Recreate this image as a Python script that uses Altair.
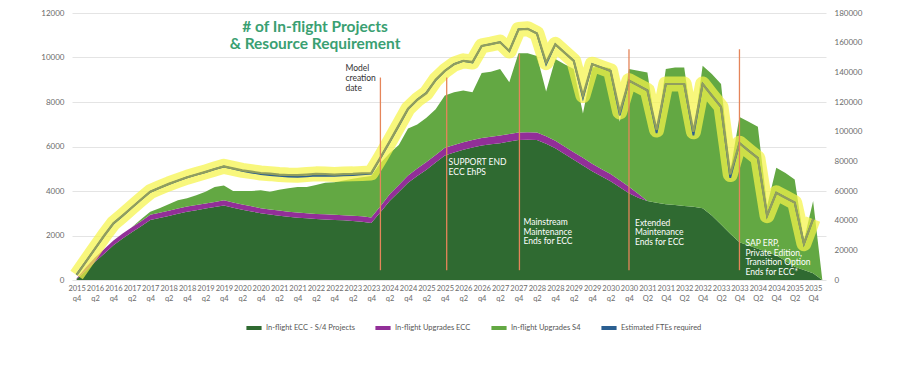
import json
import altair as alt
import pandas as pd

# ---------------- data (quarterly, 0 = 2015 q4 ... 80 = 2035 Q4, 81 = run-out) ----------------
quarter_index = list(range(82))

tick_labels = [
    ["2015", "q4"], ["2016", "q2"], ["2016", "q4"], ["2017", "q2"], ["2017", "q4"],
    ["2018", "q2"], ["2018", "q4"], ["2019", "q2"], ["2019", "q4"], ["2020", "q2"],
    ["2020", "q4"], ["2021", "q2"], ["2021", "q4"], ["2022", "q2"], ["2022", "q4"],
    ["2023", "q2"], ["2023", "q4"], ["2024", "q2"], ["2024", "q4"], ["2025", "q2"],
    ["2025", "q4"], ["2026", "q2"], ["2026", "q4"], ["2027", "q2"], ["2027", "q4"],
    ["2028", "q2"], ["2028", "q4"], ["2029", "q2"], ["2029", "q4"], ["2030", "q2"],
    ["2030", "q4"], ["2031", "Q2"], ["2031", "Q4"], ["2032", "Q2"], ["2032", "Q4"],
    ["2033", "Q2"], ["2033", "Q4"], ["2034", "Q2"], ["2034", "Q4"], ["2035", "Q2"],
    ["2035", "Q4"],
]
tick_values = list(range(0, 81, 2))
left_ticks = [0, 2000, 4000, 6000, 8000, 10000, 12000]
right_ticks = [0, 20000, 40000, 60000, 80000, 100000, 120000, 140000, 160000, 180000]

series_names = [
    "In-flight ECC - S/4 Projects",
    "In-flight Upgrades ECC",
    "In-flight Upgrades S4",
    "Estimated FTEs required",
]

ecc_s4_projects = [
    50, 420, 820, 1180, 1560, 1870, 2150, 2420, 2700, 2790,
    2880, 2980, 3070, 3140, 3210, 3280, 3350, 3250, 3160, 3080,
    3000, 2940, 2890, 2840, 2800, 2770, 2740, 2720, 2700, 2680,
    2650, 2620, 2560, 3050, 3550, 3950, 4370, 4670, 4960, 5280,
    5600, 5730, 5850, 5950, 6040, 6100, 6150, 6220, 6290, 6300,
    6290, 6120, 5920, 5660, 5400, 5150, 4890, 4660, 4440, 4170,
    3900, 3700, 3550, 3470, 3400, 3370, 3330, 3290, 3230, 2900,
    2490, 2080, 1700, 1550, 1400, 1250, 1110, 850, 590, 450,
    300, 0,
]
upgrades_ecc = [
    20, 140, 190, 210, 220, 220, 220, 225, 230, 230,
    230, 230, 230, 230, 230, 230, 230, 230, 230, 230,
    230, 230, 230, 230, 230, 230, 230, 230, 230, 230,
    235, 240, 250, 260, 300, 320, 330, 340, 340, 340,
    340, 340, 340, 340, 340, 340, 340, 340, 340, 340,
    340, 340, 340, 340, 340, 340, 340, 330, 320, 310,
    290, 180, 0, 0, 0, 0, 0, 0, 0, 0,
    0, 0, 0, 0, 0, 0, 0, 0, 0, 0,
    0, 0,
]
upgrades_s4 = [
    0, 0, 0, 0, 0, 0, 0, 90, 140, 210,
    300, 370, 370, 440, 530, 670, 670, 520, 610, 690,
    800, 800, 940, 1050, 1150, 1180, 1300, 1420, 1460, 1560,
    1670, 1760, 1860, 1950, 1850, 1800, 2110, 1980, 1990, 2050,
    2350, 2370, 2330, 2150, 2920, 2920, 2990, 2330, 3560, 3550,
    3440, 2010, 3670, 3700, 3740, 1990, 4320, 4610, 4760, 2630,
    5290, 5520, 5780, 3120, 6080, 6180, 6220, 3300, 6400, 6360,
    6320, 2810, 5630, 5560, 5490, 2080, 3930, 3960, 3930, 1330,
    3250, 0,
]
# right axis (FTEs)
estimated_ftes = [
    3750, 12300, 21000, 29850, 38100, 43350, 48750, 54150, 59400, 62100,
    64650, 66900, 69150, 70950, 72750, 74700, 76500, 75000, 73500, 72450,
    71400, 70800, 70200, 69750, 69600, 69900, 70350, 70200, 70200, 70500,
    70800, 71250, 71700, 82200, 93000, 103950, 115200, 121500, 126300, 134700,
    141000, 145500, 147750, 146700, 157800, 159000, 160350, 154350, 168900, 169350,
    166200, 145500, 158850, 153300, 147750, 122700, 145500, 143250, 141000, 111000,
    134400, 131100, 127800, 99000, 132150, 132150, 132150, 97500, 132150, 124350,
    116700, 68850, 92250, 87150, 82200, 43350, 58800, 55500, 52200, 24450,
    41100, None,
]
fte_trend = [
    3300, 12300, 21150, 30000, 38250, 43500, 48900, 54300, 59550, 62250,
    64800, 67050, 69300, 71100, 72900, 74850, 76650, 75300, 73950, 73050,
    72150, 71700, 71100, 70800, 70650, 71100, 71550, 71400, 71100, 71400,
    71550, 71850, 72150, 82500, 93300, 104400, 115500, 121500, 126000, 135000,
    141000, 145500, 147750, 147000, 157800, 159000, 160350, 154350, 168900, 169350,
    166200, 146550, 158850, 153300, 147750, 124350, 145500, 143250, 141000, 113250,
    134400, 131100, 127800, 101100, 132150, 132150, 132150, 99900, 132150, 124350,
    116700, 71100, 92250, 87150, 82200, 43350, 58800, 55500, 52200, 24450,
    41100, None,
]

rule_quarters = [33, 40.2, 48.1, 60, 72]
rule_tops = [9100, 9100, 10150, 10370, 10370]
rule_bottom = 440

annotation_quarters = [29.2, 40.4, 48.55, 60.65, 72.65]
annotation_values = [9690, 5470, 2780, 2760, 1840]
annotation_lines = [
    ["Model", "creation", "date"],
    ["SUPPORT END", "ECC EhPS"],
    ["Mainstream", "Maintenance", "Ends for ECC"],
    ["Extended", "Maintenance", "Ends for ECC"],
    ["SAP ERP,", "Private Edition,", "Transition Option", "Ends for ECC*"],
]
annotation_colors = ["#333333", "#ffffff", "#ffffff", "#ffffff", "#ffffff"]

title_lines = ["# of In-flight Projects", "& Resource Requirement"]
title_quarter = 25.9
title_value = 11700

# ---------------- styles ----------------
DARK = "#2f6a31"
PURPLE = "#922f98"
LIGHT = "#63a843"
BLUE = "#2b5f91"
OLIVE = "#919e5e"
YELLOW = "#f5f449"
ORANGE = "#e5855a"
TITLE_C = "#3aa072"
FONT = "Lato"
AXIS_C = "#6b6b6b"

x_scale = alt.Scale(domain=[-0.5, 81.4], nice=False, zero=False)
y_left = alt.Scale(domain=[0, 12000], nice=False)
y_right = alt.Scale(domain=[0, 180000], nice=False)

label_expr = "(" + json.dumps(tick_labels) + ")[round(datum.value / 2)]"

x_axis = alt.Axis(
    values=tick_values, labelExpr=label_expr, labelAngle=0, labelOverlap=False,
    labelFlush=False, labelBound=False, ticks=False, domain=False, grid=False,
    labelFontSize=7.5, labelColor=AXIS_C, labelFont=FONT, labelPadding=4,
    labelLineHeight=10, title=None,
)
left_axis = alt.Axis(
    values=left_ticks, format="d", grid=True, gridColor="#e4e4e4", gridWidth=1,
    domain=False, ticks=False, labelPadding=8, labelFontSize=8, labelColor=AXIS_C,
    labelFont=FONT, labelOverlap=False, title=None,
)
right_axis = alt.Axis(
    orient="right", values=right_ticks, format="d", grid=False, domain=False,
    ticks=False, labelPadding=8, labelFontSize=8, labelColor=AXIS_C,
    labelFont=FONT, labelOverlap=False, title=None,
)

# ---------------- tables ----------------
area_names = series_names[:3]
area_rows = []
for ordv, (name, vals) in enumerate(zip(area_names, [ecc_s4_projects, upgrades_ecc, upgrades_s4])):
    for q, v in zip(quarter_index, vals):
        area_rows.append({"quarter": q, "series": name, "value": v, "ord": ordv})
area_df = pd.DataFrame(area_rows)

line_df = pd.DataFrame({"quarter": quarter_index, "fte": estimated_ftes, "trend": fte_trend})

legend_df = pd.DataFrame({"series": series_names, "quarter": [0] * 4, "value": [None] * 4})

rule_df = pd.DataFrame({"quarter": rule_quarters, "top": rule_tops,
                        "bottom": [rule_bottom] * len(rule_quarters)})

annot_df = pd.DataFrame({
    "quarter": annotation_quarters, "value": annotation_values,
    "lines": annotation_lines, "color": annotation_colors,
})
title_df = pd.DataFrame({"quarter": [title_quarter], "value": [title_value], "lines": [title_lines]})

X = alt.X("quarter:Q", scale=x_scale, axis=x_axis)

# ---------------- layers ----------------
areas = alt.Chart(area_df).mark_area(interpolate="linear").encode(
    x=X,
    y=alt.Y("value:Q", stack="zero", scale=y_left, axis=left_axis),
    color=alt.Color("series:N", scale=alt.Scale(domain=area_names, range=[DARK, PURPLE, LIGHT]),
                    legend=None),
    order=alt.Order("ord:Q"),
)

legend_layer = alt.Chart(legend_df).mark_line().encode(
    x=X,
    y=alt.Y("value:Q", scale=y_left, axis=left_axis),
    stroke=alt.Stroke("series:N",
                      scale=alt.Scale(domain=series_names, range=[DARK, PURPLE, LIGHT, BLUE]),
                      legend=alt.Legend(orient="none", legendX=172, legendY=305, direction="horizontal",
                                        title=None, symbolType="stroke", symbolStrokeWidth=4,
                                        symbolSize=230, labelFontSize=7.5, labelColor="#555555",
                                        labelFont=FONT, columnPadding=12, labelOffset=2)),
)

left_group = alt.layer(areas, legend_layer)

yellow_band = alt.Chart(line_df).mark_line(
    color=YELLOW, strokeWidth=15, opacity=0.72, strokeJoin="round", strokeCap="butt"
).encode(
    x=X,
    y=alt.Y("trend:Q", scale=y_right, axis=right_axis),
)
blue_line = alt.Chart(line_df).mark_line(color=BLUE, strokeWidth=1.8).encode(
    x=X,
    y=alt.Y("fte:Q", scale=y_right, axis=right_axis),
)
olive_line = alt.Chart(line_df).mark_line(color=OLIVE, strokeWidth=2.2).encode(
    x=X,
    y=alt.Y("trend:Q", scale=y_right, axis=right_axis),
)
right_group = alt.layer(yellow_band, blue_line, olive_line)

rules = alt.Chart(rule_df).mark_rule(color=ORANGE, strokeWidth=1.3).encode(
    x=X,
    y=alt.Y("bottom:Q", scale=y_left, axis=None),
    y2="top:Q",
)
texts = alt.Chart(annot_df).mark_text(
    align="left", baseline="top", fontSize=8.5, lineHeight=9.6, font=FONT
).encode(
    x=X,
    y=alt.Y("value:Q", scale=y_left, axis=None),
    text="lines",
    color=alt.Color("color:N", scale=None),
)
title_text = alt.Chart(title_df).mark_text(
    align="center", baseline="top", fontSize=15.5, lineHeight=17, font=FONT,
    fontWeight="bold", color=TITLE_C
).encode(
    x=X,
    y=alt.Y("value:Q", scale=y_left, axis=None),
    text="lines",
)
annot_group = alt.layer(rules, texts, title_text)

chart = alt.layer(left_group, right_group, annot_group).resolve_scale(
    y="independent"
).properties(
    width=754, height=267,
    padding={"left": 64, "top": 5, "right": 60, "bottom": 60},
    autosize=alt.AutoSizeParams(type="none"),
    background="white",
).configure_view(stroke=None)

chart.save("out.html", embed_options={"renderer": "svg", "actions": False})
